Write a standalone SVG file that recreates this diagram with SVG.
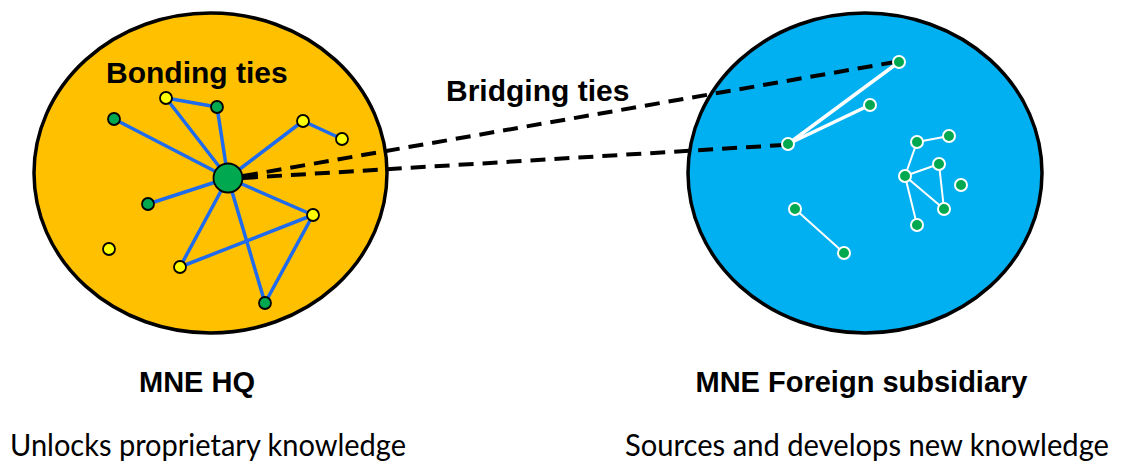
<svg xmlns="http://www.w3.org/2000/svg" width="1124" height="465" viewBox="0 0 1124 465">
<style>
.bold{font-family:"Liberation Sans",Arial,sans-serif;font-weight:bold;fill:#000}
.reg{font-family:Lato,"Liberation Sans",sans-serif;fill:#000}
.ell{stroke:#000;stroke-width:3.5}
.be{stroke:#1F6BEE;stroke-width:3.5;stroke-linecap:round;fill:none}
.we{stroke:#fff;stroke-width:3.5;stroke-linecap:round;fill:none}
.wt{stroke:#fff;stroke-width:2;stroke-linecap:round;fill:none}
.dash{stroke:#000;stroke-width:4;stroke-dasharray:15 9;fill:none}
.g{fill:#00A94F;stroke:#000;stroke-width:1.8}
.y{fill:#FFFF00;stroke:#000;stroke-width:1.8}
.gw{fill:#00A94F;stroke:#fff;stroke-width:2}
</style>
<rect width="1124" height="465" fill="#fff"/>
<g id="hq">
<ellipse cx="210.5" cy="173" rx="176.5" ry="160" fill="#FFC000" class="ell"/>
</g>
<g id="subsidiary">
<ellipse cx="865" cy="173" rx="177" ry="160" fill="#00B0F0" class="ell"/>
</g>
<g id="connectors">
<line class="be" x1="228" y1="178" x2="114" y2="119"/>
<line class="be" x1="228" y1="178" x2="166" y2="98"/>
<line class="be" x1="166" y1="98" x2="217" y2="107"/>
<line class="be" x1="217" y1="107" x2="228" y2="178"/>
<line class="be" x1="228" y1="178" x2="303" y2="121"/>
<line class="be" x1="303" y1="121" x2="342" y2="139"/>
<line class="be" x1="228" y1="178" x2="148" y2="204"/>
<line class="be" x1="228" y1="178" x2="313" y2="215"/>
<line class="be" x1="228" y1="178" x2="180" y2="267"/>
<line class="be" x1="180" y1="267" x2="313" y2="215"/>
<line class="be" x1="228" y1="178" x2="265" y2="303"/>
<line class="be" x1="313" y1="215" x2="265" y2="303"/>
<line class="we" x1="899" y1="62" x2="788" y2="144"/>
<line class="we" x1="870" y1="105" x2="788" y2="144"/>
<line class="wt" x1="917" y1="142" x2="949" y2="136"/>
<line class="wt" x1="917" y1="142" x2="905" y2="176"/>
<line class="wt" x1="905" y1="176" x2="939" y2="164"/>
<line class="wt" x1="939" y1="164" x2="944" y2="209"/>
<line class="wt" x1="905" y1="176" x2="944" y2="209"/>
<line class="wt" x1="905" y1="176" x2="917" y2="225"/>
<line class="wt" x1="795" y1="209" x2="844" y2="253"/>
<line class="dash" x1="243" y1="176" x2="895" y2="62"/>
<line class="dash" x1="243" y1="178" x2="784" y2="145"/>
</g>
<g id="hq-nodes">
<g id="hub"><circle class="g" cx="228" cy="178" r="14.5" stroke-width="2.2"/></g>
<g id="h1"><circle class="g" cx="114" cy="119" r="6"/></g>
<g id="h2"><circle class="y" cx="166" cy="98" r="6"/></g>
<g id="h3"><circle class="g" cx="217" cy="107" r="6"/></g>
<g id="h4"><circle class="y" cx="303" cy="121" r="6"/></g>
<g id="h5"><circle class="y" cx="342" cy="139" r="6"/></g>
<g id="h6"><circle class="g" cx="148" cy="204" r="6"/></g>
<g id="h7"><circle class="y" cx="313" cy="215" r="6"/></g>
<g id="h8"><circle class="y" cx="109" cy="249" r="6"/></g>
<g id="h9"><circle class="y" cx="180" cy="267" r="6"/></g>
<g id="h10"><circle class="g" cx="265" cy="303" r="6"/></g>
</g>
<g id="sub-nodes">
<g id="s1"><circle class="gw" cx="899" cy="62" r="6"/></g>
<g id="s2"><circle class="gw" cx="870" cy="105" r="6"/></g>
<g id="s3"><circle class="gw" cx="788" cy="144" r="6"/></g>
<g id="s4"><circle class="gw" cx="917" cy="142" r="6"/></g>
<g id="s5"><circle class="gw" cx="949" cy="136" r="6"/></g>
<g id="s6"><circle class="gw" cx="939" cy="164" r="6"/></g>
<g id="s7"><circle class="gw" cx="905" cy="176" r="6"/></g>
<g id="s8"><circle class="gw" cx="961" cy="185" r="6"/></g>
<g id="s9"><circle class="gw" cx="944" cy="209" r="6"/></g>
<g id="s10"><circle class="gw" cx="917" cy="225" r="6"/></g>
<g id="s11"><circle class="gw" cx="795" cy="209" r="6"/></g>
<g id="s12"><circle class="gw" cx="844" cy="253" r="6"/></g>
</g>
<g id="labels">
<text class="bold" x="106" y="83" font-size="30">Bonding ties</text>
<text class="bold" x="446" y="101" font-size="30">Bridging ties</text>
<text class="bold" x="197" y="392" font-size="29" text-anchor="middle">MNE HQ</text>
<text class="bold" x="861.5" y="392" font-size="29" text-anchor="middle">MNE Foreign subsidiary</text>
<text class="reg" x="10" y="456" font-size="31" textLength="396" lengthAdjust="spacingAndGlyphs">Unlocks proprietary knowledge</text>
<text class="reg" x="625" y="456" font-size="30" textLength="484" lengthAdjust="spacingAndGlyphs">Sources and develops new knowledge</text>
</g>
</svg>
